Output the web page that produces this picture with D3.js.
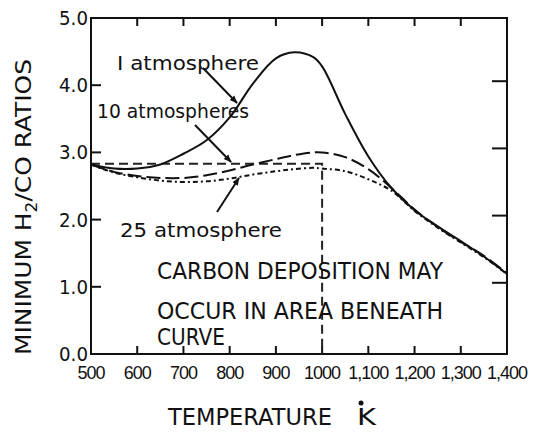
<!DOCTYPE html>
<html>
<head>
<meta charset="utf-8">
<script src="https://cdn.jsdelivr.net/npm/d3@7"></script>
<style>
  body { margin: 0; background: #fff; }
  svg text { font-family: "DejaVu Sans", sans-serif; fill: #111; }
</style>
</head>
<body>
<svg id="chart" width="541" height="432"></svg>
<script>
// temperatures (K) at which the curves were read
const temps = [500, 550, 600, 650, 700, 750, 800, 850, 900, 940, 980, 1000, 1050, 1100, 1150, 1200, 1250, 1300, 1350, 1400];
const atm1  = [2.82, 2.76, 2.76, 2.82, 2.98, 3.18, 3.52, 4.02, 4.40, 4.49, 4.42, 4.28, 3.57, 2.94, 2.47, 2.14, 1.90, 1.68, 1.45, 1.19];
const atm10 = [2.82, 2.71, 2.65, 2.62, 2.62, 2.66, 2.73, 2.82, 2.90, 2.96, 3.00, 3.00, 2.93, 2.75, 2.47, 2.15, 1.89, 1.67, 1.46, 1.20];
const atm25 = [2.82, 2.70, 2.63, 2.58, 2.56, 2.57, 2.61, 2.67, 2.72, 2.75, 2.77, 2.76, 2.72, 2.60, 2.43, 2.13, 1.88, 1.66, 1.44, 1.19];

const refRatio = 2.83;   // horizontal guide
const refTemp = 1000;    // vertical guide

const xTicks = [500, 600, 700, 800, 900, 1000, 1100, 1200, 1300, 1400];
const xTickLabels = ["500", "600", "700", "800", "900", "1000", "1,100", "1,200", "1,300", "1,400"];
const yTicks = [0, 1, 2, 3, 4, 5];
const yTickLabels = ["0.0", "1.0", "2.0", "3.0", "4.0", "5.0"];

const svg = d3.select("#chart");
const m = { left: 91, top: 18, right: 34, bottom: 78 };
const W = 541, H = 432;

const x = d3.scaleLinear().domain([500, 1400]).range([m.left, W - m.right]);
const y = d3.scaleLinear().domain([0, 5]).range([H - m.bottom, m.top]);

svg.append("defs").append("marker")
    .attr("id", "arrow")
    .attr("viewBox", "0 0 10 10")
    .attr("refX", 9).attr("refY", 5)
    .attr("markerWidth", 8).attr("markerHeight", 8)
    .attr("markerUnits", "userSpaceOnUse")
    .attr("orient", "auto")
  .append("path")
    .attr("d", "M0,1 L10,5 L0,9 z")
    .attr("fill", "#111");

// frame
svg.append("rect")
    .attr("x", x(500)).attr("y", y(5))
    .attr("width", x(1400) - x(500)).attr("height", y(0) - y(5))
    .attr("fill", "none").attr("stroke", "#111").attr("stroke-width", 2);

// inward ticks on all four sides
const inner = xTicks.slice(1, -1);
svg.selectAll(".tb").data(inner).enter().append("line")
    .attr("x1", d => x(d)).attr("x2", d => x(d))
    .attr("y1", y(0)).attr("y2", y(0) - 8)
    .attr("stroke", "#111").attr("stroke-width", 2);
svg.selectAll(".tt").data(inner).enter().append("line")
    .attr("x1", d => x(d)).attr("x2", d => x(d))
    .attr("y1", y(5)).attr("y2", y(5) + 8)
    .attr("stroke", "#111").attr("stroke-width", 2);
const innerY = yTicks.slice(1, -1);
svg.selectAll(".tl").data(innerY).enter().append("line")
    .attr("x1", x(500)).attr("x2", x(500) + 10)
    .attr("y1", d => y(d)).attr("y2", d => y(d))
    .attr("stroke", "#111").attr("stroke-width", 2);
svg.selectAll(".tr").data(innerY).enter().append("line")
    .attr("x1", x(1400)).attr("x2", x(1400) - 15)
    .attr("y1", d => y(d) - 4).attr("y2", d => y(d) - 4)
    .attr("stroke", "#111").attr("stroke-width", 2);

// tick labels (narrow, as in the scan)
svg.selectAll(".xl").data(xTicks).enter().append("text")
    .attr("x", d => x(d)).attr("y", y(0) + 25)
    .attr("text-anchor", "middle")
    .style("font-family", "'Liberation Sans', Arial, sans-serif")
    .attr("font-size", 18)
    .attr("letter-spacing", -1)
    .text((d, i) => xTickLabels[i]);
svg.selectAll(".yl").data(yTicks).enter().append("text")
    .attr("x", x(500) - 3).attr("y", d => y(d) + 7)
    .attr("text-anchor", "end")
    .attr("font-size", 20)
    .attr("textLength", 29)
    .attr("lengthAdjust", "spacingAndGlyphs")
    .text((d, i) => yTickLabels[i]);

// axis titles
svg.append("text")
    .attr("x", 168).attr("y", 425)
    .attr("font-size", 23)
    .attr("textLength", 164)
    .attr("lengthAdjust", "spacingAndGlyphs")
    .text("TEMPERATURE");
svg.append("text")
    .attr("x", 357).attr("y", 425)
    .attr("font-size", 23)
    .attr("textLength", 19)
    .attr("lengthAdjust", "spacingAndGlyphs")
    .text("K");
svg.append("circle").attr("cx", 361).attr("cy", 403).attr("r", 2.5).attr("fill", "#111");

const yt = svg.append("text")
    .attr("transform", "translate(31,207) rotate(-90)")
    .attr("text-anchor", "middle")
    .attr("font-size", 22)
    .attr("textLength", 296)
    .attr("lengthAdjust", "spacingAndGlyphs");
yt.append("tspan").text("MINIMUM H");
yt.append("tspan").attr("font-size", 15).attr("dy", 6).text("2");
yt.append("tspan").attr("dy", -6).text("/CO RATIOS");

// reference guides
svg.append("path")
    .attr("d", d3.line()([[x(500), y(refRatio)], [x(refTemp), y(refRatio)], [x(refTemp), y(0)]]))
    .attr("fill", "none").attr("stroke", "#222").attr("stroke-width", 2)
    .attr("stroke-dasharray", "9,5");

// curves
const line = d3.line()
    .x((d, i) => x(temps[i]))
    .y(d => y(d))
    .curve(d3.curveCatmullRom.alpha(0.5));

svg.append("path").datum(atm1).attr("d", line)
    .attr("fill", "none").attr("stroke", "#111").attr("stroke-width", 2);
svg.append("path").datum(atm10).attr("d", line)
    .attr("fill", "none").attr("stroke", "#111").attr("stroke-width", 2)
    .attr("stroke-dasharray", "14,5");
svg.append("path").datum(atm25).attr("d", line)
    .attr("fill", "none").attr("stroke", "#111").attr("stroke-width", 2)
    .attr("stroke-dasharray", "5,3,2,3");

// annotations
svg.append("text").attr("x", 117).attr("y", 70).attr("font-size", 20).attr("textLength", 142).attr("lengthAdjust", "spacingAndGlyphs").text("I atmosphere");
svg.append("text").attr("x", 97).attr("y", 118).attr("font-size", 20).attr("textLength", 152).attr("lengthAdjust", "spacingAndGlyphs").text("10 atmospheres");
svg.append("text").attr("x", 120).attr("y", 237).attr("font-size", 20).attr("textLength", 162).attr("lengthAdjust", "spacingAndGlyphs").text("25 atmosphere");

const arrows = [
    [[203, 68], [237, 103]],
    [[195, 125], [231, 162]],
    [[217, 212], [239, 178]]
];
svg.selectAll(".arr").data(arrows).enter().append("path")
    .attr("d", d => d3.line()(d))
    .attr("stroke", "#111").attr("stroke-width", 2)
    .attr("fill", "none")
    .attr("marker-end", "url(#arrow)");

const note = ["CARBON DEPOSITION MAY", "OCCUR IN AREA BENEATH", "CURVE"];
const noteLen = [286, 286, 68];
svg.selectAll(".note").data(note).enter().append("text")
    .attr("x", 157)
    .attr("y", (d, i) => [279, 319, 345][i])
    .attr("font-size", 23)
    .attr("textLength", (d, i) => noteLen[i])
    .attr("lengthAdjust", "spacingAndGlyphs")
    .text(d => d);
</script>
</body>
</html>
